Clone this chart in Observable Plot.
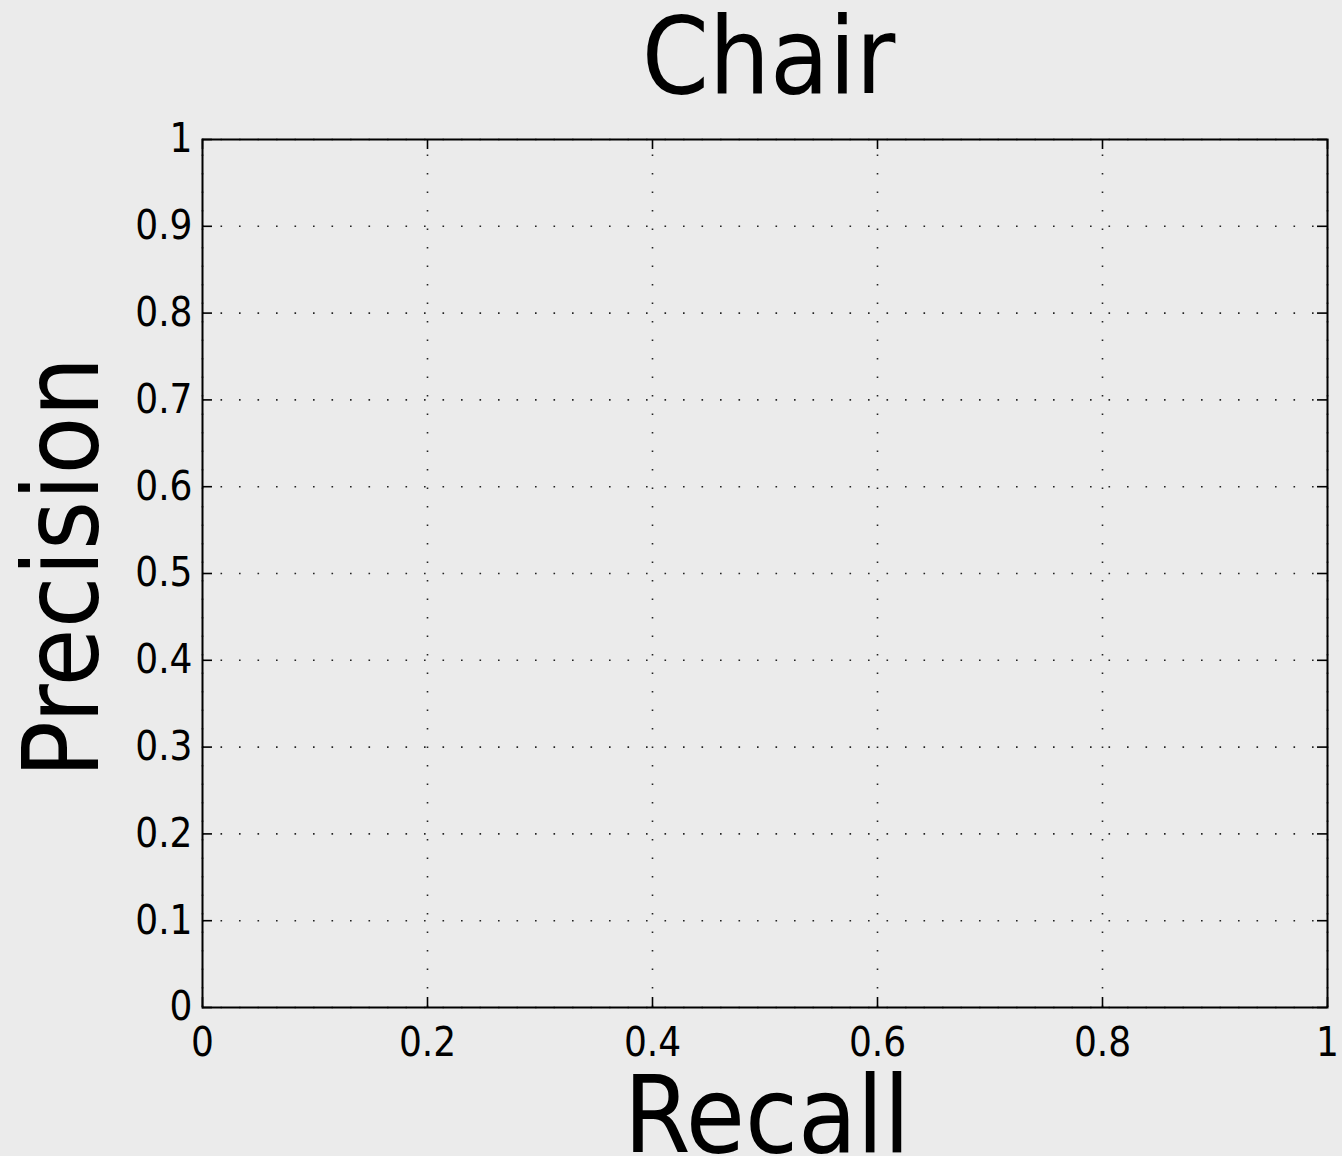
<!DOCTYPE html>
<html>
<head>
<meta charset="utf-8">
<script src="https://cdn.jsdelivr.net/npm/d3@7"></script>
<script src="https://cdn.jsdelivr.net/npm/@observablehq/plot@0.6"></script>
<style>
  html, body { margin: 0; padding: 0; background: #ebebeb; overflow: hidden; }
  #chart { width: 1342px; height: 1156px; position: relative; }
  #title {
    height: 100px; line-height: 112px; overflow: visible;
    font-family: "DejaVu Sans Condensed", "DejaVu Sans", sans-serif;
    font-size: 107px; color: #000;
    padding-left: 206px; width: 1125px; text-align: center; white-space: nowrap;
  }
</style>
</head>
<body>
<div id="chart"><div id="title"></div></div>
<script>
// ---- data ----
const title = "Chair";
const xLabel = "Recall";
const yLabel = "Precision";
const xDomain = [0, 1];
const yDomain = [0, 1];
const xTicks = [0, 0.2, 0.4, 0.6, 0.8, 1];
const xTickLabels = ["0", "0.2", "0.4", "0.6", "0.8", "1"];
const yTicks = [0, 0.1, 0.2, 0.3, 0.4, 0.5, 0.6, 0.7, 0.8, 0.9, 1];
const yTickLabels = ["0", "0.1", "0.2", "0.3", "0.4", "0.5", "0.6", "0.7", "0.8", "0.9", "1"];
// The reference chart plots no curves (empty precision–recall axes).
const series = [];

// ---- layout ----
const W = 1342, H = 1056;
const mL = 202, mR = 15, mT = 39, mB = 149;
const innerW = W - mL - mR, innerH = H - mT - mB;
const tickLen = 10;
const font = "'DejaVu Sans Condensed', 'DejaVu Sans', sans-serif";
const gridStyle = {stroke: "#000", strokeOpacity: 0.85, strokeWidth: 1.6, strokeDasharray: "1.6,16.9"};

document.getElementById("title").textContent = title;

const chart = Plot.plot({
  width: W,
  height: H,
  marginLeft: mL, marginRight: mR, marginTop: mT, marginBottom: mB,
  style: {background: "#ebebeb", fontFamily: font, color: "#000", overflow: "visible"},
  x: {domain: xDomain},
  y: {domain: yDomain},
  marks: [
    // dotted grid
    Plot.ruleX(xTicks, {x: d => d, y1: yDomain[0], y2: yDomain[1], ...gridStyle}),
    Plot.ruleY(yTicks, {y: d => d, x1: xDomain[0], x2: xDomain[1], ...gridStyle}),
    // frame
    Plot.frame({stroke: "#000", strokeWidth: 2}),
    // inward ticks on all four sides
    Plot.ruleX(xTicks, {x: d => d, insetTop: innerH - tickLen, stroke: "#000", strokeWidth: 1.6}),
    Plot.ruleX(xTicks, {x: d => d, insetBottom: innerH - tickLen, stroke: "#000", strokeWidth: 1.6}),
    Plot.ruleY(yTicks, {y: d => d, insetRight: innerW - tickLen, stroke: "#000", strokeWidth: 1.6}),
    Plot.ruleY(yTicks, {y: d => d, insetLeft: innerW - tickLen, stroke: "#000", strokeWidth: 1.6}),
    // tick labels
    Plot.axisX(xTicks, {anchor: "bottom", tickSize: 0, tickPadding: 20, fontSize: 40, label: null,
      tickFormat: d => xTickLabels[xTicks.indexOf(d)]}),
    Plot.axisY(yTicks, {anchor: "left", tickSize: 0, tickPadding: 10, fontSize: 40, label: null,
      tickFormat: d => yTickLabels[yTicks.indexOf(d)]}),
    // axis titles
    Plot.text([yLabel], {text: d => d, frameAnchor: "left", rotate: -90, dx: -105, dy: -6,
      lineAnchor: "bottom", textAnchor: "middle", fontSize: 105, fill: "#000"}),
    Plot.text([xLabel], {text: d => d, frameAnchor: "bottom", dy: 144, dx: 2,
      lineAnchor: "bottom", textAnchor: "middle", fontSize: 107, fill: "#000"}),
    // data lines (none in the reference)
    Plot.line(series, {x: "recall", y: "precision", stroke: "series"})
  ]
});
document.getElementById("chart").appendChild(chart);
</script>
</body>
</html>
